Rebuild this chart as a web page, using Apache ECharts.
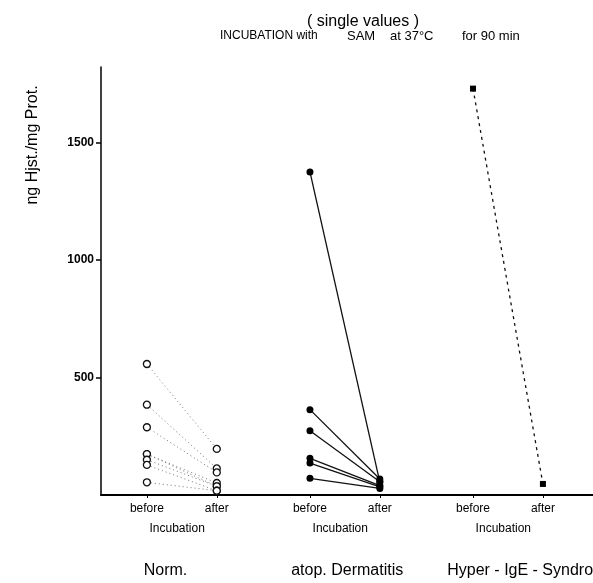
<!DOCTYPE html>
<html>
<head>
<meta charset="utf-8">
<script src="https://cdn.jsdelivr.net/npm/echarts@6/dist/echarts.min.js"></script>
<style>
  html, body { margin: 0; padding: 0; background: #fff; }
  #chart { width: 593px; height: 583px; }
</style>
</head>
<body>
<div id="chart"></div>
<script>
// values (ng Hist./mg Prot.)
const groups = ['Norm.', 'atop. Dermatitis', 'Hyper - IgE - Syndrome'];
const phases = ['before', 'after'];
const normBefore = [557, 384, 288, 174, 174, 150, 128, 54];
const normAfter = [196, 113, 96, 51, 37, 37, 18, 18];
const atopBefore = [1374, 363, 273, 156, 136, 71];
const atopAfter = [55, 68, 56, 40, 35, 28];
const hyperBefore = [1728];
const hyperAfter = [47];
const yTicks = [500, 1000, 1500];

const FONT = 'Liberation Sans';

// slot on the x scale: each group takes 7 slots, "after" is 3 slots right of "before"
function slot(g, phase) { return g * 7 + phase * 3; }

const tickSlots = [];
const tickNames = {};
groups.forEach((_, g) => {
    phases.forEach((p, k) => {
        tickSlots.push(slot(g, k));
        tickNames[slot(g, k)] = p;
    });
});
const incSlots = groups.map((_, g) => slot(g, 0) + 1.3);
const nameSlots = [0.8, 8.6, 16.5];
const X_MIN = -1.97, X_MAX = 19.15;

const styles = [
    { symbol: 'circle', size: 7, fill: '#fff', border: '#111', bw: 1.3, line: { color: '#777', width: 1, type: [1, 3] } },
    { symbol: 'circle', size: 7, fill: '#000', border: '#000', bw: 0, line: { color: '#111', width: 1.3, type: 'solid' } },
    { symbol: 'rect', size: 6, fill: '#000', border: '#000', bw: 0, line: { color: '#111', width: 1.3, type: [3, 4] } }
];
const pairs = [[normBefore, normAfter], [atopBefore, atopAfter], [hyperBefore, hyperAfter]];

const series = [];
pairs.forEach(([b, a], g) => {
    const st = styles[g];
    b.forEach((v, i) => {
        series.push({
            type: 'line',
            data: [[slot(g, 0), v], [slot(g, 1), a[i]]],
            symbol: st.symbol,
            symbolSize: st.size,
            showSymbol: true,
            itemStyle: { color: st.fill, borderColor: st.border, borderWidth: st.bw },
            lineStyle: st.line,
            silent: true,
            z: 3
        });
    });
});

const chart = echarts.init(document.getElementById('chart'));
chart.setOption({
    animation: false,
    backgroundColor: '#fff',
    grid: { left: 101, right: 0, top: 67, bottom: 88, containLabel: false, outerBoundsMode: 'none' },
    xAxis: [
        {
            type: 'value', min: X_MIN, max: X_MAX,
            axisLine: { show: true, onZero: false, lineStyle: { color: '#000', width: 2 } },
            splitLine: { show: false },
            axisTick: { show: true, customValues: tickSlots, length: 3, lineStyle: { color: '#000' } },
            axisLabel: {
                customValues: tickSlots, margin: 8, color: '#000',
                fontFamily: FONT, fontSize: 12,
                formatter: v => tickNames[v] || ''
            }
        },
        {
            type: 'value', min: X_MIN, max: X_MAX, position: 'bottom',
            axisLine: { show: false }, axisTick: { show: false }, splitLine: { show: false },
            axisLabel: {
                customValues: incSlots, margin: 28, color: '#000',
                fontFamily: FONT, fontSize: 12,
                formatter: () => 'Incubation'
            }
        },
        {
            type: 'value', min: X_MIN, max: X_MAX, position: 'bottom',
            axisLine: { show: false }, axisTick: { show: false }, splitLine: { show: false },
            axisLabel: {
                customValues: nameSlots, margin: 68, color: '#000',
                fontFamily: FONT, fontSize: 16,
                formatter: v => groups[nameSlots.indexOf(v)]
            }
        }
    ],
    yAxis: {
        type: 'value', min: 0, max: 1820, interval: 500,
        axisLine: { show: true, onZero: false, lineStyle: { color: '#000', width: 1.5 } },
        splitLine: { show: false },
        axisTick: { show: true, customValues: yTicks, length: 5, lineStyle: { color: '#000', width: 1.5 } },
        axisLabel: {
            customValues: yTicks, margin: 7, color: '#000',
            fontFamily: FONT, fontSize: 12, fontWeight: 'bold',
            formatter: v => String(v)
        }
    },
    graphic: [
        {
            type: 'text', x: 363, y: 22,
            style: { text: '( single values )', fill: '#000', font: '16px "Liberation Sans"', textAlign: 'center', textVerticalAlign: 'middle' }
        },
        {
            type: 'text', x: 220, y: 36,
            style: { text: 'INCUBATION with', fill: '#000', font: '12px "Liberation Sans"', textAlign: 'left', textVerticalAlign: 'middle' }
        },
        {
            type: 'text', x: 347, y: 36,
            style: { text: 'SAM', fill: '#000', font: '13px "Liberation Sans"', textAlign: 'left', textVerticalAlign: 'middle' }
        },
        {
            type: 'text', x: 390, y: 36,
            style: { text: 'at 37°C', fill: '#000', font: '13px "Liberation Sans"', textAlign: 'left', textVerticalAlign: 'middle' }
        },
        {
            type: 'text', x: 462, y: 36,
            style: { text: 'for 90 min', fill: '#000', font: '13px "Liberation Sans"', textAlign: 'left', textVerticalAlign: 'middle' }
        },
        {
            type: 'text', x: 33, y: 145, rotation: Math.PI / 2,
            style: { text: 'ng Hjst./mg Prot.', fill: '#000', font: '16px "Liberation Sans"', textAlign: 'center', textVerticalAlign: 'middle' }
        }
    ],
    series: series
});
window.addEventListener('resize', () => chart.resize());
</script>
</body>
</html>
